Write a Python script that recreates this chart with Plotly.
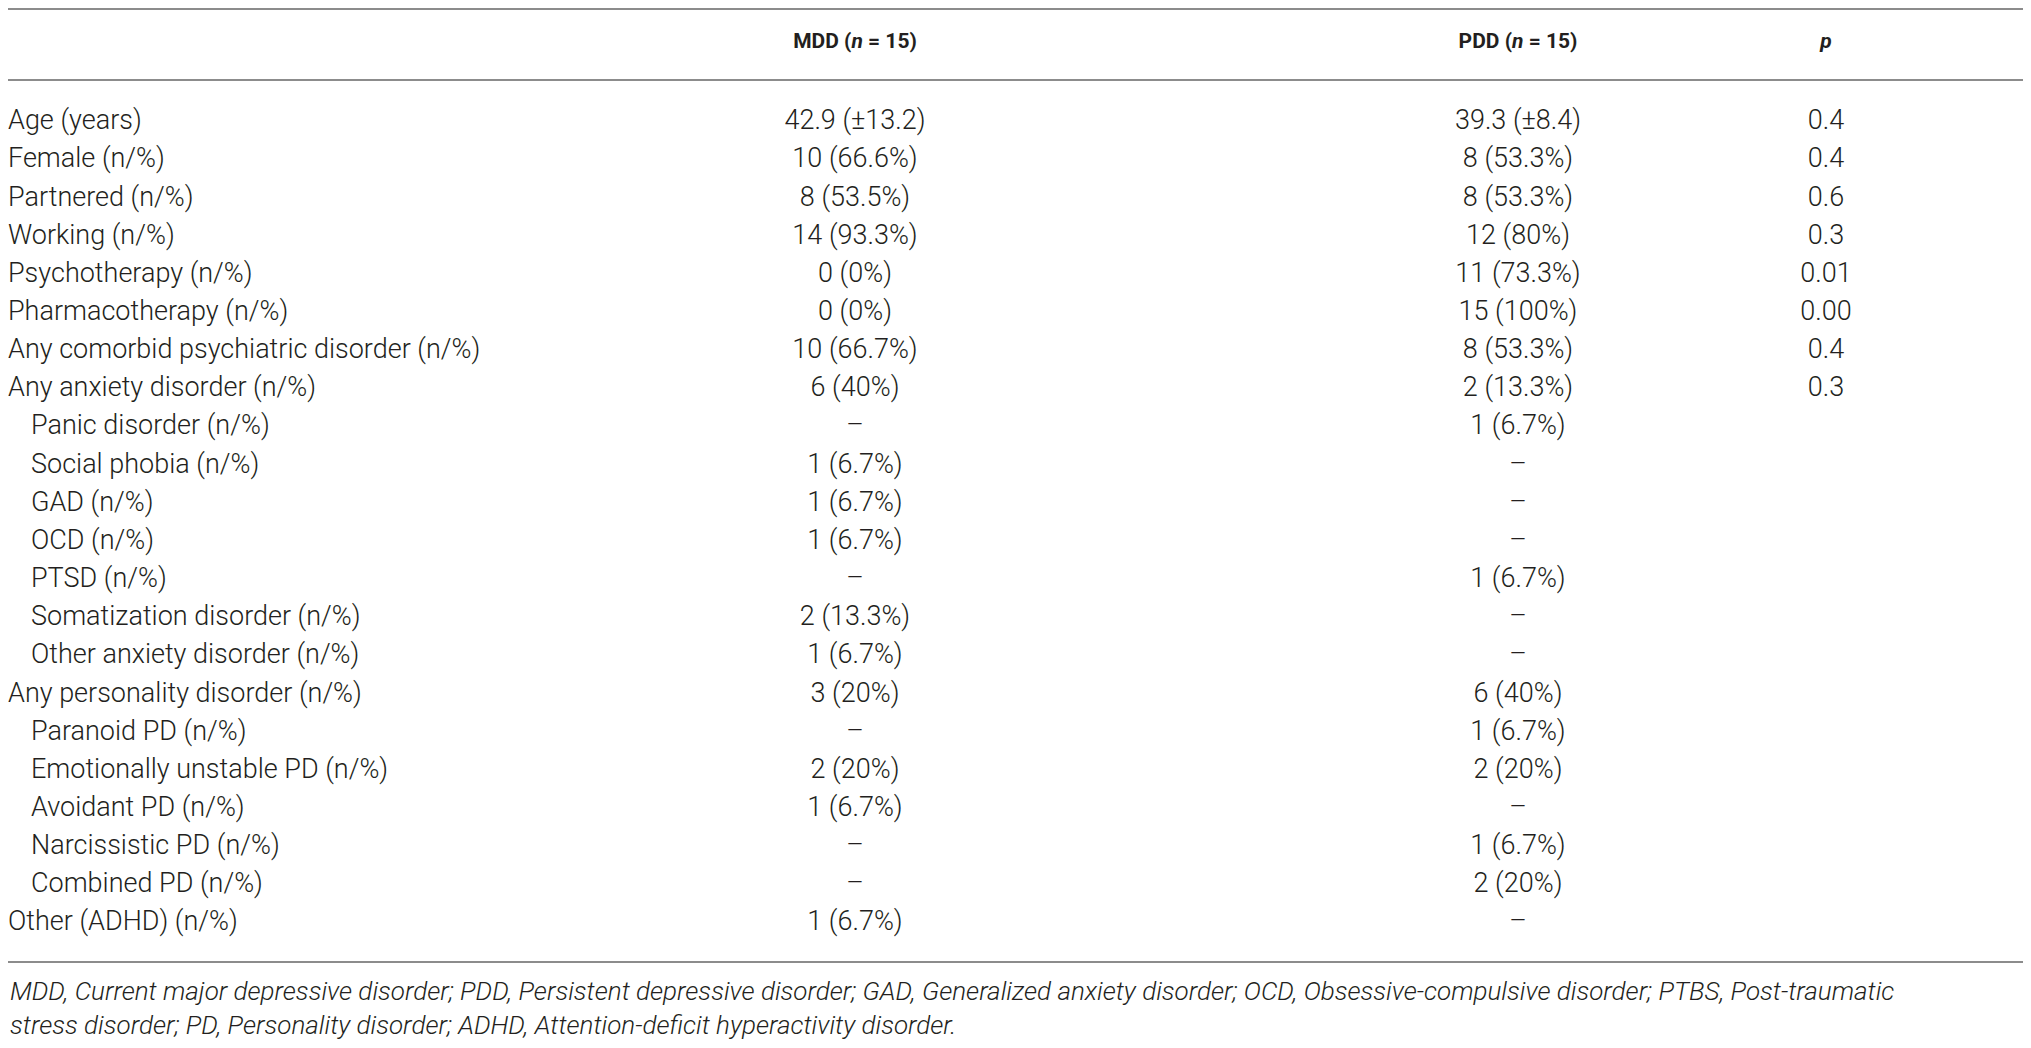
import plotly.graph_objects as go

# table content
row_labels = [
    'Age (years)', 'Female (n/%)', 'Partnered (n/%)', 'Working (n/%)',
    'Psychotherapy (n/%)', 'Pharmacotherapy (n/%)',
    'Any comorbid psychiatric disorder (n/%)', 'Any anxiety disorder (n/%)',
    'Panic disorder (n/%)', 'Social phobia (n/%)', 'GAD (n/%)', 'OCD (n/%)',
    'PTSD (n/%)', 'Somatization disorder (n/%)', 'Other anxiety disorder (n/%)',
    'Any personality disorder (n/%)', 'Paranoid PD (n/%)',
    'Emotionally unstable PD (n/%)', 'Avoidant PD (n/%)',
    'Narcissistic PD (n/%)', 'Combined PD (n/%)', 'Other (ADHD) (n/%)',
]
indented = [False] * 8 + [True] * 7 + [False] + [True] * 5 + [False]
mdd = ['42.9 (±13.2)', '10 (66.6%)', '8 (53.5%)', '14 (93.3%)', '0 (0%)', '0 (0%)',
       '10 (66.7%)', '6 (40%)', '–', '1 (6.7%)', '1 (6.7%)', '1 (6.7%)', '–',
       '2 (13.3%)', '1 (6.7%)', '3 (20%)', '–', '2 (20%)', '1 (6.7%)', '–', '–',
       '1 (6.7%)']
pdd = ['39.3 (±8.4)', '8 (53.3%)', '8 (53.3%)', '12 (80%)', '11 (73.3%)',
       '15 (100%)', '8 (53.3%)', '2 (13.3%)', '1 (6.7%)', '–', '–', '–',
       '1 (6.7%)', '–', '–', '6 (40%)', '1 (6.7%)', '2 (20%)', '–', '1 (6.7%)',
       '2 (20%)', '–']
p_vals = ['0.4', '0.4', '0.6', '0.3', '0.01', '0.00', '0.4', '0.3'] + [''] * 14
headers = ['MDD (<i>n</i> = 15)', 'PDD (<i>n</i> = 15)', '<i>p</i>']
footnote = ('<i>MDD, Current major depressive disorder; PDD, Persistent depressive disorder; '
            'GAD, Generalized anxiety disorder; OCD, Obsessive-compulsive disorder; PTBS, Post-traumatic<br>'
            'stress disorder; PD, Personality disorder; ADHD, Attention-deficit hyperactivity disorder.</i>')

W, H = 2031, 1048
OFF = 8  # page body margin; axis units below equal screen pixels
TXT = '#231f20'
FONT = 'Roboto'
SIZE = 27
row0, step = 122.5, 38.15
col_x = [855, 1518, 1826]
rows_y = [row0 + i * step for i in range(len(row_labels))]

fig = go.Figure()
fig.add_trace(go.Scatter(
    x=[31 if ind else OFF for ind in indented], y=rows_y, text=row_labels,
    mode='text', textposition='middle right', cliponaxis=False,
    textfont=dict(family=FONT, size=SIZE, color=TXT, weight=300)))
for cx, vals in zip(col_x, [mdd, pdd, p_vals]):
    fig.add_trace(go.Scatter(
        x=[cx] * len(vals), y=rows_y, text=vals, mode='text', textposition='middle center',
        cliponaxis=False, textfont=dict(family=FONT, size=SIZE, color=TXT, weight=300)))
fig.add_trace(go.Scatter(
    x=col_x, y=[43] * 3, text=headers, mode='text', textposition='middle center',
    cliponaxis=False, textfont=dict(family=FONT, size=21, color=TXT, weight=700)))

for ly in [OFF + 1, 80, 962]:
    fig.add_shape(type='line', xref='x', yref='y', x0=OFF, x1=W, y0=ly, y1=ly,
                  line=dict(color='#8c8c8c', width=2))

fig.add_annotation(x=OFF, y=1008, xref='x', yref='y', text=footnote, showarrow=False,
                   xanchor='left', yanchor='middle', align='left',
                   font=dict(family=FONT, size=26, color=TXT, weight=300))

fig.update_layout(
    width=W - 2 * OFF, height=H - 2 * OFF, margin=dict(l=0, r=0, t=0, b=0),
    paper_bgcolor='white', plot_bgcolor='white', showlegend=False,
    xaxis=dict(range=[OFF, W - OFF], visible=False, fixedrange=True),
    yaxis=dict(range=[H - OFF, OFF], visible=False, fixedrange=True),
)
fig.write_html('out.html')
